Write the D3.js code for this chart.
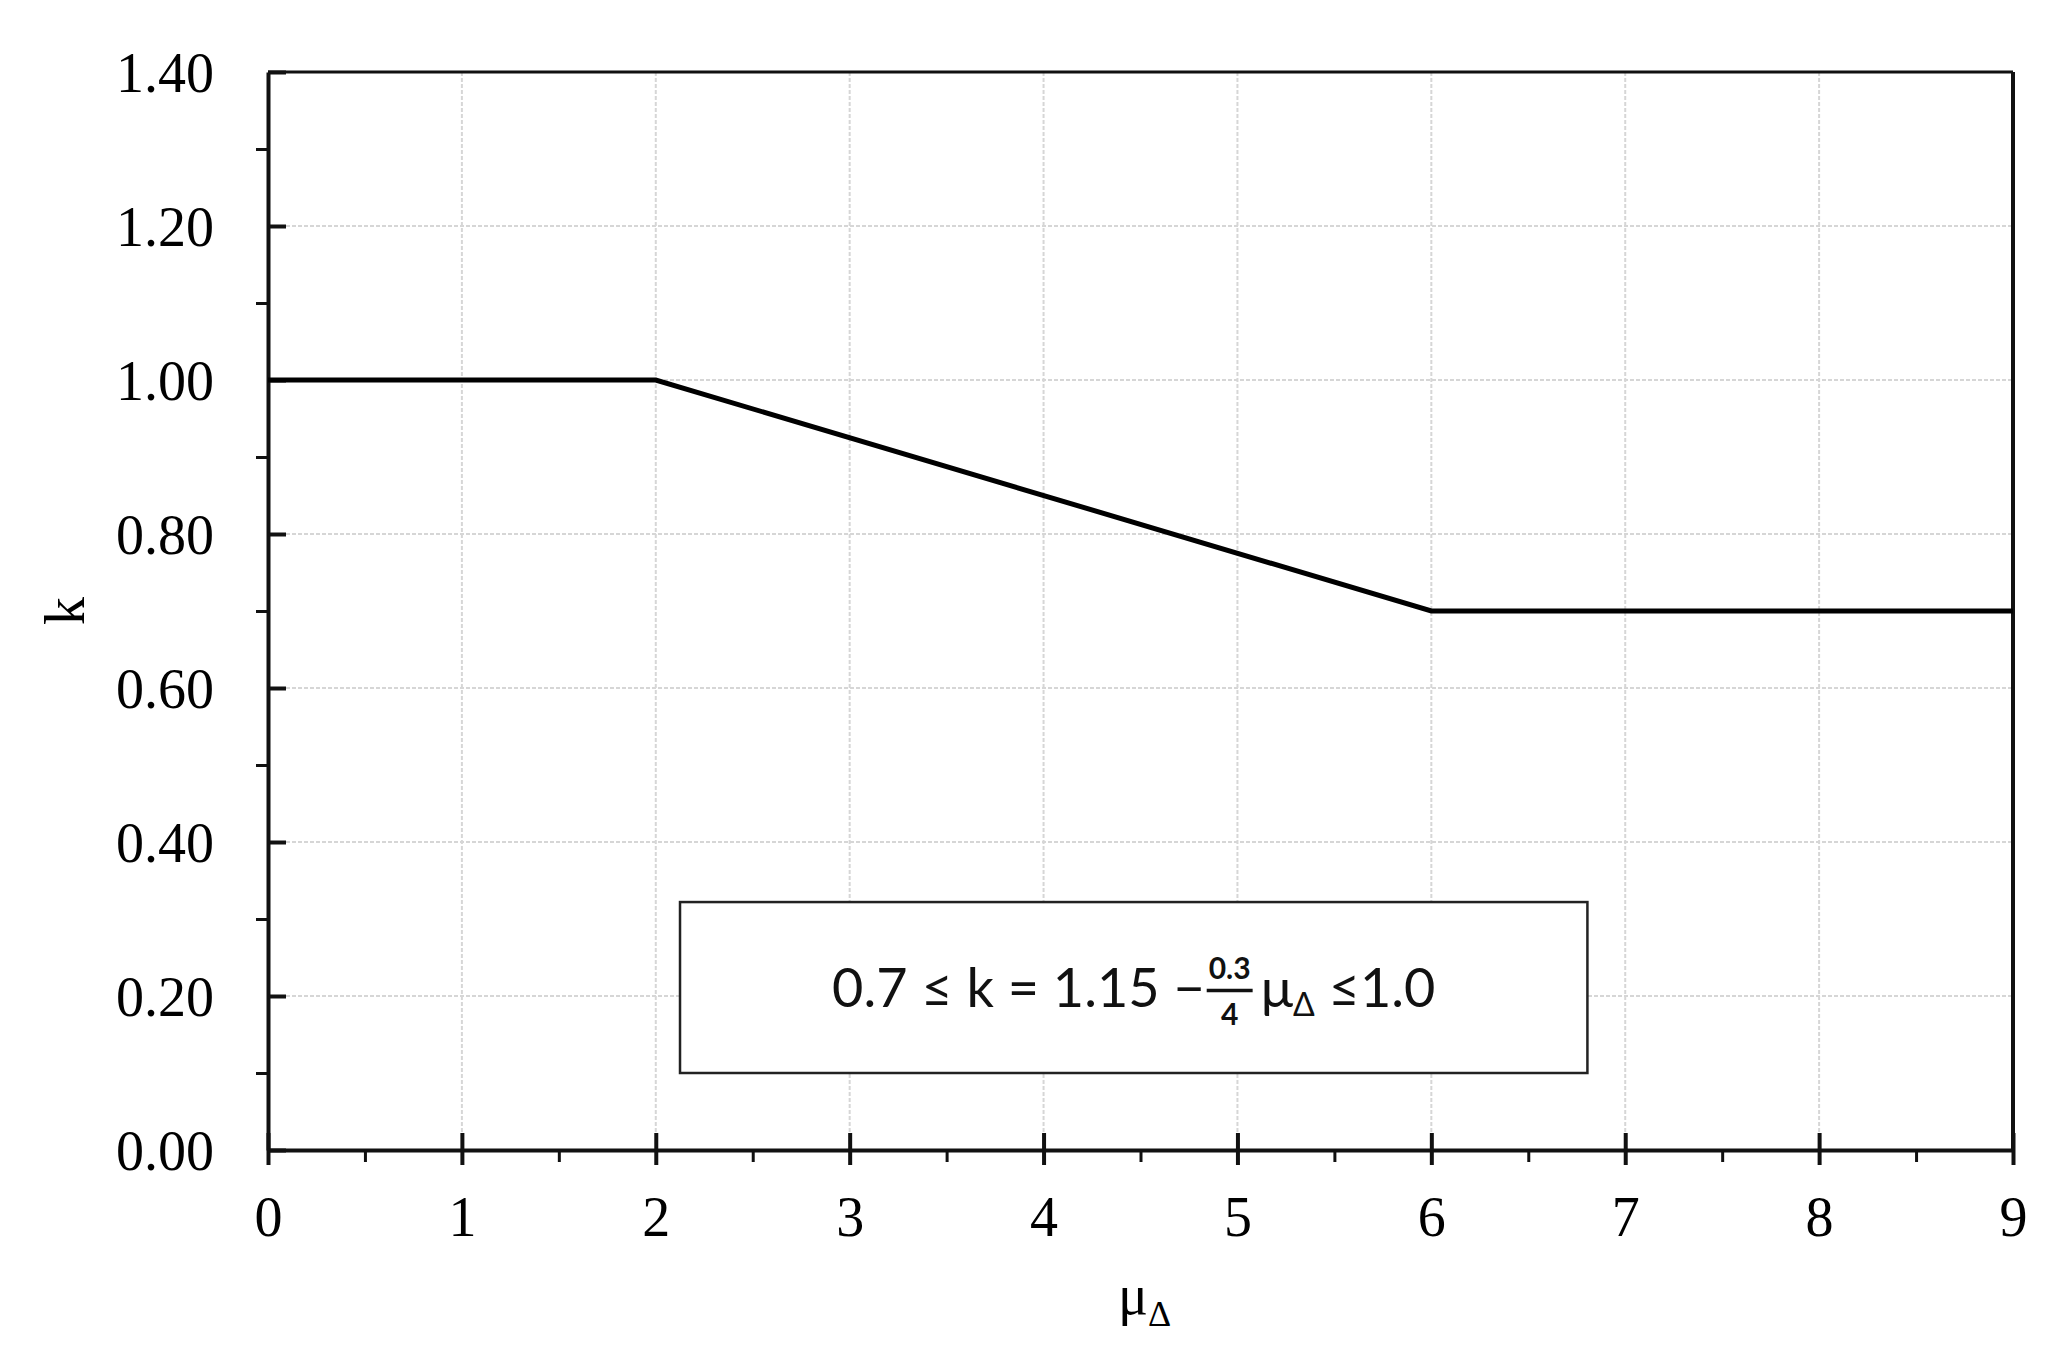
<!DOCTYPE html>
<meta charset="utf-8">
<style>
body { margin: 0; background: #fff; }
.tick text { font-family: "Liberation Serif", "Times New Roman", serif; font-size: 56px; fill: #000; }
.grid line { stroke: #d6d6d6; stroke-width: 2px; stroke-dasharray: 4,2; }
.curve { fill: none; stroke: #000; stroke-width: 5px; }
.formula { font-family: Lato, "Open Sans", sans-serif; fill: #111; }
</style>
<svg width="2069" height="1350"></svg>
<script src="https://cdn.jsdelivr.net/npm/d3@7"></script>
<script>

// data
var muValues = [0, 2, 6, 9];
var kValues = [1.0, 1.0, 0.7, 0.7];
var xTicks = [0, 1, 2, 3, 4, 5, 6, 7, 8, 9];
var yTicks = [0, 0.2, 0.4, 0.6, 0.8, 1.0, 1.2, 1.4];
var xMinor = d3.range(0.5, 9, 1);
var yMinor = d3.range(0.1, 1.4, 0.2);
var boxX = [2.125, 6.805];
var boxY = [0.10, 0.322];

var svg = d3.select("svg"),
  margin = {top: 72, right: 56, bottom: 200, left: 268},
  width = +svg.attr("width") - margin.left - margin.right,
  height = +svg.attr("height") - margin.top - margin.bottom,
  g = svg.append("g").attr("transform", "translate(" + margin.left + "," + margin.top + ")");

var x = d3.scaleLinear().domain([0, 9]).range([0, width]);
var y = d3.scaleLinear().domain([0, 1.4]).range([height, 0]);

// grid
g.append("g").attr("class", "grid")
  .selectAll("line").data(xTicks.slice(1, -1)).enter().append("line")
  .attr("x1", x).attr("x2", x).attr("y1", 0).attr("y2", height);
g.append("g").attr("class", "grid")
  .selectAll("line").data(yTicks.slice(1, -1)).enter().append("line")
  .attr("x1", 0).attr("x2", width).attr("y1", y).attr("y2", y);

// frame (top + right)
g.append("line").attr("x1", 0).attr("x2", width).attr("y1", 0).attr("y2", 0)
  .attr("stroke", "#111").attr("stroke-width", 3);
g.append("line").attr("x1", width).attr("x2", width).attr("y1", 0).attr("y2", height)
  .attr("stroke", "#111").attr("stroke-width", 4);

// minor ticks
g.append("g").attr("transform", "translate(0," + height + ")")
  .call(d3.axisBottom(x).tickValues(xMinor).tickSize(12).tickFormat(""))
  .call(function(a) { a.select(".domain").remove(); a.selectAll("line").attr("stroke", "#111").attr("stroke-width", 3); });
g.append("g")
  .call(d3.axisLeft(y).tickValues(yMinor).tickSize(12).tickFormat(""))
  .call(function(a) { a.select(".domain").remove(); a.selectAll("line").attr("stroke", "#111").attr("stroke-width", 3); });

// major axes
var xAxis = g.append("g").attr("transform", "translate(0," + height + ")")
  .call(d3.axisBottom(x).tickValues(xTicks).tickSize(15).tickSizeOuter(0).tickPadding(31).tickFormat(d3.format("d")));
xAxis.select(".domain").attr("stroke", "#111").attr("stroke-width", 4);
xAxis.selectAll(".tick line").attr("stroke", "#111").attr("stroke-width", 4).attr("y1", -17);

var yAxis = g.append("g")
  .call(d3.axisLeft(y).tickValues(yTicks).tickSize(17).tickSizeOuter(0).tickPadding(37).tickFormat(d3.format(".2f")));
yAxis.select(".domain").attr("stroke", "#111").attr("stroke-width", 4);
yAxis.selectAll(".tick line").attr("stroke", "#111").attr("stroke-width", 4).attr("x2", 18);
yAxis.selectAll(".tick text").attr("dy", "0.34em");

// curve
var line = d3.line().x(function(d) { return x(d[0]); }).y(function(d) { return y(d[1]); });
g.append("path").datum(d3.zip(muValues, kValues)).attr("class", "curve").attr("d", line);

// formula box
g.append("rect")
  .attr("x", x(boxX[0])).attr("y", y(boxY[1]))
  .attr("width", x(boxX[1]) - x(boxX[0])).attr("height", y(boxY[0]) - y(boxY[1]))
  .attr("fill", "#fff").attr("stroke", "#222").attr("stroke-width", 2.5);

var fs = 54;
var cx = x((boxX[0] + boxX[1]) / 2), base = y((boxY[0] + boxY[1]) / 2) + 19;
var fg = g.append("g").attr("class", "formula");
var cur = 0;
function piece(txt, size, dy) {
  var t = fg.append("text").attr("x", cur).attr("y", dy || 0).attr("font-size", size).text(txt);
  cur += t.node().getComputedTextLength();
  return t;
}
piece("0.7 \u2264 k = 1.15 \u2212 ", fs);
cur += 2;
var fx = cur;
var num = fg.append("text").attr("y", -28).attr("font-size", 30).attr("font-weight", "bold").text("0.3");
var den = fg.append("text").attr("y", 18).attr("font-size", 30).attr("font-weight", "bold").text("4");
var fw = num.node().getComputedTextLength() + 4;
num.attr("x", fx + 2).attr("text-anchor", "start");
den.attr("x", fx + fw / 2).attr("text-anchor", "middle");
fg.append("line").attr("x1", fx).attr("x2", fx + fw).attr("y1", -16).attr("y2", -16)
  .attr("stroke", "#111").attr("stroke-width", 3.5);
cur = fx + fw + 8;
piece("\u03bc", fs);
piece("\u0394", 32, 9);
cur += 14;
piece("\u22641.0", fs);
fg.attr("transform", "translate(" + (cx - cur / 2) + "," + base + ")");

// axis titles
svg.append("text")
  .attr("transform", "translate(84," + (margin.top + height / 2) + ") rotate(-90)")
  .attr("text-anchor", "middle")
  .style("font-family", "'Liberation Serif', serif").style("font-size", "56px")
  .text("k");
var xt = svg.append("text")
  .attr("x", margin.left + width / 2 + 4).attr("y", 1314)
  .attr("text-anchor", "middle")
  .style("font-family", "'Liberation Serif', serif").style("font-size", "56px");
xt.append("tspan").text("\u03bc");
xt.append("tspan").attr("dy", 12).style("font-size", "36px").text("\u0394");

</script>
